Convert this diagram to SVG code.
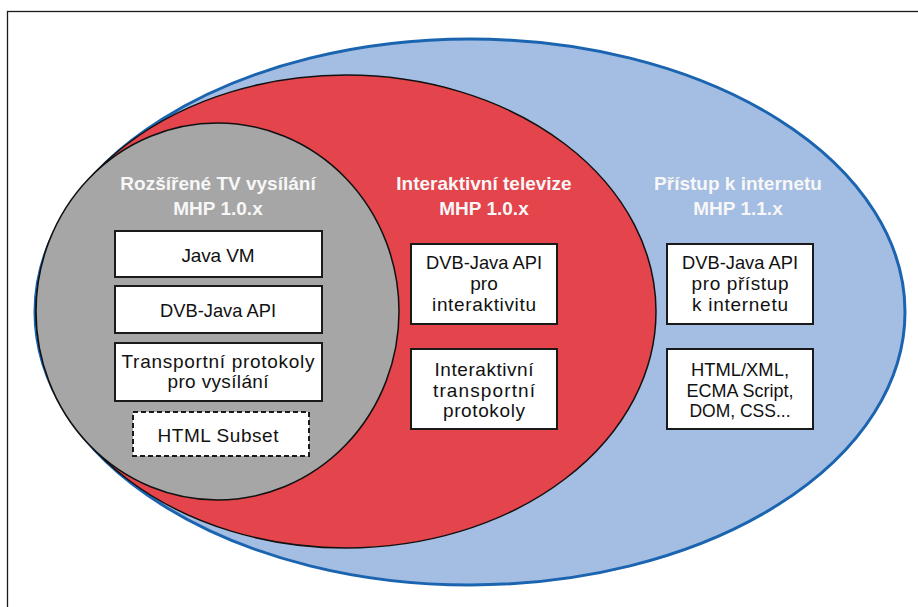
<svg xmlns="http://www.w3.org/2000/svg" width="918" height="607" viewBox="0 0 918 607">
<style>
.title{font-family:"Liberation Sans",Arial,sans-serif;font-weight:bold;font-size:19px;fill:#f7f7f7;text-anchor:middle}
.box{fill:#ffffff;stroke:#1a1a1a;stroke-width:2}
.dash{stroke-dasharray:5,3}
.lbl{font-family:"Liberation Sans",Arial,sans-serif;font-size:19px;fill:#111;text-anchor:middle}
</style>
<rect x="0" y="0" width="918" height="607" fill="#ffffff"/>
<rect x="7.5" y="11.5" width="920" height="610" fill="none" stroke="#1a1a1a" stroke-width="1.3"/>
<g id="internet">
<ellipse cx="470" cy="312" rx="435" ry="273" fill="#a4bde2" stroke="#1a64b0" stroke-width="3"/>
</g>
<g id="interaktivni">
<ellipse cx="346" cy="311.5" rx="310" ry="236.5" fill="#e4444b" stroke="#111" stroke-width="1.5"/>
</g>
<g id="rozsirene">
<ellipse cx="217.5" cy="311.5" rx="181.5" ry="188.5" fill="#a6a6a6" stroke="#111" stroke-width="1.5"/>
</g>
<g id="titles">
<text class="title" x="218" y="190">Rozšířené TV vysílání</text>
<text class="title" x="218" y="215">MHP 1.0.x</text>
<text class="title" x="484" y="190">Interaktivní televize</text>
<text class="title" x="484" y="215">MHP 1.0.x</text>
<text class="title" x="738" y="190">Přístup k internetu</text>
<text class="title" x="738" y="215">MHP 1.1.x</text>
</g>
<g id="java-vm">
<rect class="box" x="115" y="231" width="207" height="46"/>
<text class="lbl" x="218" y="262" textLength="73" lengthAdjust="spacing">Java VM</text>
</g>
<g id="dvb-java-api">
<rect class="box" x="115" y="286" width="207" height="47"/>
<text class="lbl" x="218" y="317" textLength="116" lengthAdjust="spacingAndGlyphs">DVB-Java API</text>
</g>
<g id="transportni">
<rect class="box" x="115" y="343" width="207" height="58"/>
<text class="lbl" x="218" y="368" textLength="193" lengthAdjust="spacing">Transportní protokoly</text>
<text class="lbl" x="218" y="388" textLength="101" lengthAdjust="spacing">pro vysílání</text>
</g>
<g id="html-subset">
<rect class="box dash" x="133" y="412" width="176" height="44"/>
<text class="lbl" x="218" y="442" textLength="121" lengthAdjust="spacing">HTML Subset</text>
</g>
<g id="dvb-interaktivita">
<rect class="box" x="411" y="244" width="146" height="80"/>
<text class="lbl" x="484" y="269" textLength="116" lengthAdjust="spacingAndGlyphs">DVB-Java API</text>
<text class="lbl" x="484" y="290">pro</text>
<text class="lbl" x="484" y="311" textLength="104" lengthAdjust="spacing">interaktivitu</text>
</g>
<g id="interaktivni-transportni">
<rect class="box" x="411" y="349" width="146" height="80"/>
<text class="lbl" x="484" y="376" textLength="99" lengthAdjust="spacing">Interaktivní</text>
<text class="lbl" x="484" y="396.5" textLength="102" lengthAdjust="spacing">transportní</text>
<text class="lbl" x="484" y="417" textLength="82" lengthAdjust="spacing">protokoly</text>
</g>
<g id="dvb-internet">
<rect class="box" x="667" y="244" width="146" height="80"/>
<text class="lbl" x="740" y="269" textLength="116" lengthAdjust="spacingAndGlyphs">DVB-Java API</text>
<text class="lbl" x="740" y="290" textLength="97" lengthAdjust="spacing">pro přístup</text>
<text class="lbl" x="740" y="311" textLength="96" lengthAdjust="spacing">k internetu</text>
</g>
<g id="html-xml">
<rect class="box" x="667" y="349" width="146" height="80"/>
<text class="lbl" x="740" y="376" textLength="98" lengthAdjust="spacingAndGlyphs">HTML/XML,</text>
<text class="lbl" x="740" y="396.5" textLength="107" lengthAdjust="spacingAndGlyphs">ECMA Script,</text>
<text class="lbl" x="740" y="417" textLength="101" lengthAdjust="spacingAndGlyphs">DOM, CSS...</text>
</g>
<g id="connectors"></g>
</svg>
